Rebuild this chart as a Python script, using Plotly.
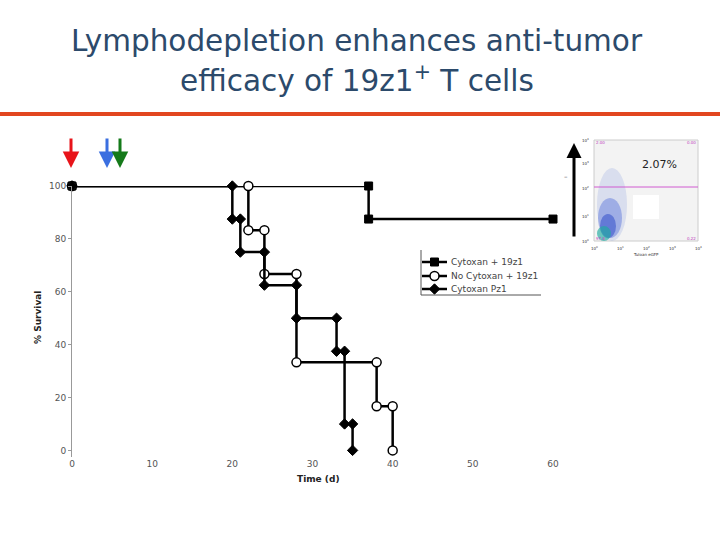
import plotly.graph_objects as go

# ---- data ----
series_names = ["Cytoxan + 19z1", "No Cytoxan + 19z1", "Cytoxan Pz1"]
cyt19z1_time = [0, 37, 60]
cyt19z1_surv = [100, 87.5, 87.5]
nocyt19z1_time = [0, 22, 24, 28, 38, 40]
nocyt19z1_surv = [100, 83.3, 66.7, 33.3, 16.7, 0]
cytpz1_time = [0, 20, 21, 24, 28, 33, 34, 35]
cytpz1_surv = [100, 87.5, 75, 62.5, 50, 37.5, 10, 0]
x_ticks = [0, 10, 20, 30, 40, 50, 60]
y_ticks = [0, 20, 40, 60, 80, 100]
title_lines = ["Lymphodepletion enhances anti-tumor", "efficacy of 19z1<sup>+</sup> T cells"]

W, H = 720, 540
L, R, T, B = 72, 167, 186, 83
PW, PH = W - L - R, H - T - B


def X(px):
    return (px - L) / PW


def Y(py):
    return (H - B - py) / PH


def km_corners(times, surv):
    xs, ys = [times[0]], [surv[0]]
    for i in range(1, len(times)):
        if surv[i] != surv[i - 1]:
            xs += [times[i], times[i]]
            ys += [surv[i - 1], surv[i]]
        else:
            xs.append(times[i])
            ys.append(surv[i])
    return xs, ys


fig = go.Figure()
styles = [
    dict(symbol="square", size=8, color="black", line=dict(color="black", width=1)),
    dict(symbol="circle", size=9, color="white", line=dict(color="black", width=1.5)),
    dict(symbol="diamond", size=8, color="black", line=dict(color="black", width=1)),
]
data = [(cyt19z1_time, cyt19z1_surv), (nocyt19z1_time, nocyt19z1_surv), (cytpz1_time, cytpz1_surv)]
for name, (t, s), mk in zip(series_names, data, styles):
    xs, ys = km_corners(t, s)
    fig.add_trace(go.Scatter(x=xs, y=ys, mode="lines+markers", name=name,
                             line=dict(color="black", width=2.5), marker=mk,
                             cliponaxis=False, showlegend=False))

# manual legend (compact rows like the reference), on a paper-like overlay axis
legend_rows = [262, 276, 289]
for name, mk, row in zip(series_names, styles, legend_rows):
    fig.add_trace(go.Scatter(x=[X(422), X(447)], y=[Y(row), Y(row)], mode="lines",
                             line=dict(color="black", width=2.5), xaxis="x2", yaxis="y2",
                             showlegend=False, hoverinfo="skip", cliponaxis=False))
    fig.add_trace(go.Scatter(x=[X(434.5)], y=[Y(row)], mode="markers", marker=mk,
                             xaxis="x2", yaxis="y2", showlegend=False, hoverinfo="skip",
                             cliponaxis=False))

tickfont = dict(family="DejaVu Sans", size=9, color="#555555")
fig.update_layout(
    xaxis=dict(range=[0, 60], tickvals=x_ticks, showgrid=False, zeroline=False,
               showline=False, ticks="", tickfont=tickfont, ticklabelstandoff=0),
    yaxis=dict(range=[-2.5, 100], tickvals=y_ticks, showgrid=False, zeroline=False,
               showline=True, linecolor="#999999", linewidth=1, ticks="outside",
               ticklen=3, tickcolor="#999999", tickfont=tickfont),
    xaxis2=dict(range=[0, 1], overlaying="x", anchor="y2", visible=False, fixedrange=True),
    yaxis2=dict(range=[0, 1], overlaying="y", anchor="x2", visible=False, fixedrange=True),
)

shapes = []
annotations = []


def note(px, py, text, size, color="#222222", family="DejaVu Sans", xa="center", **kw):
    annotations.append(dict(xref="paper", yref="paper", x=X(px), y=Y(py), text=text,
                            showarrow=False, xanchor=xa, yanchor="middle",
                            font=dict(family=family, size=size, color=color), **kw))


# orange rule under title
shapes.append(dict(type="line", xref="paper", yref="paper", x0=X(0), x1=X(720),
                   y0=Y(114), y1=Y(114), line=dict(color="#e2461f", width=4)))

for line, py in zip(title_lines, [41, 79]):
    note(357, py, line, 29.5, color="#2c4a6b", family="DejaVu Sans")

# axis titles
note(318, 479, "<b>Time (d)</b>", 9)
note(38, 318, "<b>% Survival</b>", 9, textangle=-90)

# treatment arrows
for px, col in [(71, "#e8141a"), (107, "#3b6fe0"), (120, "#157a1a")]:
    annotations.append(dict(xref="paper", yref="paper", x=X(px), y=Y(168), ax=0, ay=-31,
                            text="", showarrow=True, arrowhead=2, arrowwidth=3,
                            arrowsize=1.1, arrowcolor=col))

# legend text + border (left + bottom)
for name, row in zip(series_names, legend_rows):
    note(449, row, name, 9, color="#444444", xa="left")
shapes.append(dict(type="line", xref="paper", yref="paper", x0=X(421), x1=X(421),
                   y0=Y(250), y1=Y(295), line=dict(color="#555555", width=1)))
shapes.append(dict(type="line", xref="paper", yref="paper", x0=X(421), x1=X(541),
                   y0=Y(295), y1=Y(295), line=dict(color="#555555", width=1)))

# flow cytometry inset (decorative)
shapes.append(dict(type="rect", xref="paper", yref="paper", x0=X(594), x1=X(698),
                   y0=Y(241), y1=Y(140), fillcolor="#f3f3f3", line=dict(color="#cccccc", width=1)))
shapes.append(dict(type="rect", xref="paper", yref="paper", x0=X(633), x1=X(659),
                   y0=Y(219), y1=Y(195), fillcolor="white", line=dict(width=0)))
for (x0, x1, y0, y1, c) in [(597, 627, 241, 168, "rgba(140,160,225,0.25)"),
                            (598, 622, 238, 198, "rgba(70,100,215,0.4)"),
                            (600, 616, 238, 214, "rgba(40,70,200,0.5)"),
                            (597, 611, 241, 226, "rgba(30,170,160,0.65)")]:
    shapes.append(dict(type="circle", xref="paper", yref="paper", x0=X(x0), x1=X(x1),
                       y0=Y(y0), y1=Y(y1), fillcolor=c, line=dict(width=0)))
shapes.append(dict(type="line", xref="paper", yref="paper", x0=X(594), x1=X(698),
                   y0=Y(187), y1=Y(187), line=dict(color="#d05ad0", width=1)))
note(659, 164, "2.07%", 11)
annotations.append(dict(xref="paper", yref="paper", x=X(574), y=Y(143), ax=0, ay=95,
                        text="", showarrow=True, arrowhead=2, arrowwidth=3, arrowsize=1,
                        arrowcolor="black"))
for (px, py, t) in [(600, 143, "2.00"), (691, 143, "0.00"), (691, 238, "0.22"), (600, 238, "97.8")]:
    note(px, py, t, 4, color="#c040c0")
for i, py in enumerate([241, 216, 188, 163, 140]):
    note(591, py, "10<sup>%d</sup>" % i, 4, color="#333333", xa="right")
for i, px in enumerate([594, 620, 646, 672, 698]):
    note(px, 248, "10<sup>%d</sup>" % i, 4, color="#333333")
note(646, 254, "Tuloan eGFP", 4, color="#333333")
note(566, 177, "–", 7, color="#555555")

fig.update_layout(
    width=W, height=H, margin=dict(l=L, r=R, t=T, b=B, autoexpand=False),
    paper_bgcolor="white", plot_bgcolor="white",
    showlegend=False,
    shapes=shapes, annotations=annotations,
)

fig.write_html("out.html", config={"displayModeBar": False},
               post_script="document.body.style.margin='0px';")
